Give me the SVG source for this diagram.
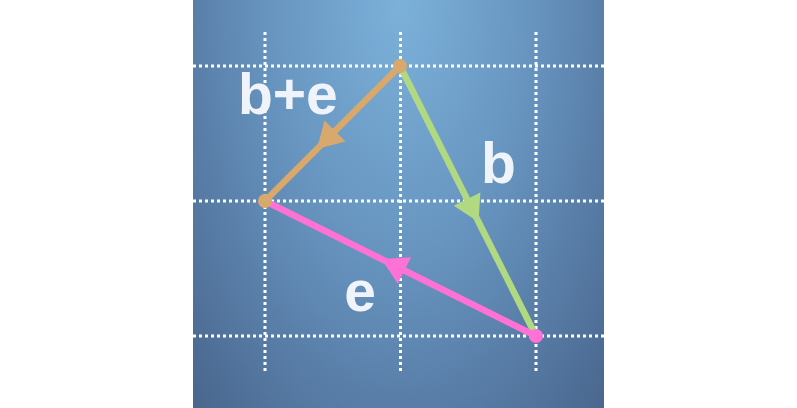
<svg xmlns="http://www.w3.org/2000/svg" width="797" height="408" viewBox="0 0 797 408">
  <defs>
    <radialGradient id="bg" gradientUnits="userSpaceOnUse" cx="0" cy="0" r="1" gradientTransform="translate(400 0) scale(290 560)">
      <stop offset="0" stop-color="#7cb1da"/>
      <stop offset="0.45" stop-color="#6795c0"/>
      <stop offset="1" stop-color="#4a678f"/>
    </radialGradient>
    <marker id="ah-orange" markerUnits="userSpaceOnUse" markerWidth="34" markerHeight="34" viewBox="-2 -16 30 32" refX="2" refY="0" orient="auto">
      <path d="M0,-14 L24,0 L0,14 Z" fill="#d9a86d"/>
    </marker>
    <marker id="ah-green" markerUnits="userSpaceOnUse" markerWidth="34" markerHeight="34" viewBox="-2 -16 30 32" refX="2" refY="0" orient="auto">
      <path d="M0,-14 L24,0 L0,14 Z" fill="#b0d981"/>
    </marker>
    <marker id="ah-pink" markerUnits="userSpaceOnUse" markerWidth="34" markerHeight="34" viewBox="-2 -16 30 32" refX="2" refY="0" orient="auto">
      <path d="M0,-14 L24,0 L0,14 Z" fill="#ff72d5"/>
    </marker>
  </defs>
  <style>
    .grid { stroke: #ffffff; stroke-width: 3; stroke-dasharray: 3 3; fill: none; }
    .vec { fill: none; stroke-width: 6.5; stroke-linecap: butt; }
    .lbl { font-family: "Liberation Sans", Arial, sans-serif; font-weight: bold; font-size: 57px; fill: #f0f4fa; }
  </style>
  <rect x="193" y="0" width="411" height="408" fill="url(#bg)"/>
  <g id="grid">
    <line class="grid" x1="193" y1="66" x2="604" y2="66"/>
    <line class="grid" x1="193" y1="201" x2="604" y2="201"/>
    <line class="grid" x1="193" y1="336" x2="604" y2="336"/>
    <line class="grid" x1="265" y1="32" x2="265" y2="371"/>
    <line class="grid" x1="400.5" y1="32" x2="400.5" y2="371"/>
    <line class="grid" x1="536" y1="32" x2="536" y2="371"/>
  </g>
  <g id="connectors">
    <polyline id="vec-b" class="vec" stroke="#b0d981" points="400,66 468,201 536,336" marker-mid="url(#ah-green)"/>
    <polyline id="vec-e" class="vec" stroke="#ff72d5" points="536,336 402.5,269.5 265,201" marker-mid="url(#ah-pink)"/>
    <polyline id="vec-be" class="vec" stroke="#d9a86d" points="400,66 333.5,132.5 265,201" marker-mid="url(#ah-orange)"/>
  </g>
  <g id="point-top"><circle cx="400" cy="66" r="7" fill="#d9a86d"/></g>
  <g id="point-left"><circle cx="265" cy="201" r="7" fill="#d9a86d"/></g>
  <g id="point-right"><circle cx="536" cy="336" r="7" fill="#ff72d5"/></g>
  <g id="label-be"><text class="lbl" x="238" y="114">b+e</text></g>
  <g id="label-b"><text class="lbl" x="498.5" y="183" text-anchor="middle">b</text></g>
  <g id="label-e"><text class="lbl" x="360" y="311" text-anchor="middle">e</text></g>
</svg>
